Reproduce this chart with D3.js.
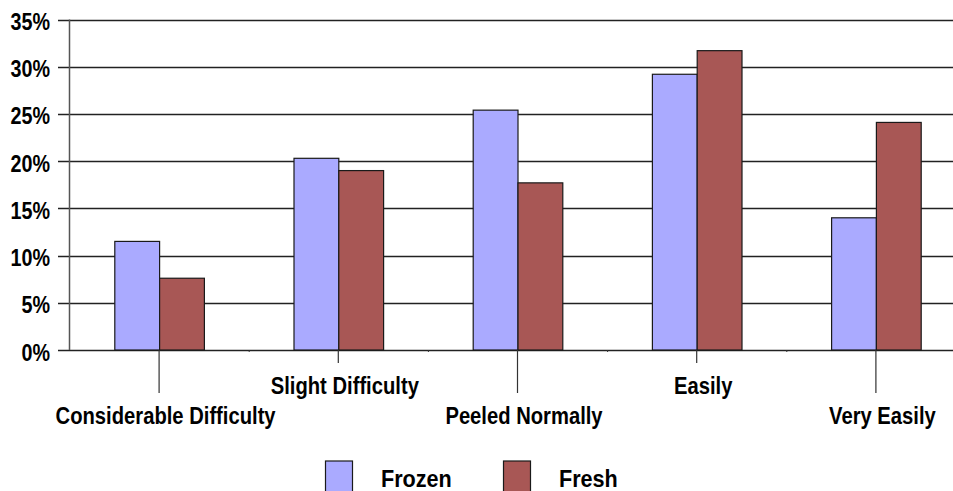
<!DOCTYPE html>
<html>
<head>
<meta charset="utf-8">
<script src="https://cdn.jsdelivr.net/npm/d3@7"></script>
<style>
  html, body { margin: 0; padding: 0; background: #fff; }
  svg { display: block; }
  text { font-family: "Liberation Sans", Arial, sans-serif; font-weight: bold; fill: #000; }
</style>
</head>
<body>
<svg id="chart" width="953" height="491"></svg>
<script>
const categories = ["Considerable Difficulty", "Slight Difficulty", "Peeled Normally", "Easily", "Very Easily"];
const seriesNames = ["Frozen", "Fresh"];
const frozenValues = [0.115, 0.203, 0.254, 0.292, 0.140];
const freshValues = [0.076, 0.190, 0.177, 0.317, 0.241];
const yTicks = [0, 0.05, 0.10, 0.15, 0.20, 0.25, 0.30, 0.35];
const colors = ["#AAAAFF", "#A85755"];

const svg = d3.select("#chart");
const W = 953, H = 491;
const plotLeft = 70, plotRight = 966, plotTop = 19.5, plotBottom = 350;

const x = d3.scaleBand().domain(categories).range([plotLeft, plotRight]).paddingInner(0.5).paddingOuter(0.25);
const xs = d3.scaleBand().domain(seriesNames).range([0, x.bandwidth()]);
const y = d3.scaleLinear().domain([0, 0.35]).range([plotBottom, plotTop]);

const data = categories.map((c, i) => ({ cat: c, vals: [frozenValues[i], freshValues[i]] }));

// gridlines
svg.append("g").selectAll("line").data(yTicks).join("line")
  .attr("x1", 58).attr("x2", W)
  .attr("y1", d => Math.round(y(d)) + 0.5).attr("y2", d => Math.round(y(d)) + 0.5)
  .attr("stroke", "#222").attr("stroke-width", 1.4);

// y axis line
svg.append("line")
  .attr("x1", plotLeft - 0.5).attr("x2", plotLeft - 0.5)
  .attr("y1", y(0.35)).attr("y2", y(0))
  .attr("stroke", "#555").attr("stroke-width", 1.5);

// y tick labels
svg.append("g").selectAll("text").data(yTicks).join("text")
  .attr("transform", d => `translate(50,${y(d) + 10.5}) scale(0.84,1)`)
  .attr("text-anchor", "end")
  .attr("font-size", 23.5)
  .text(d => d3.format(".0%")(d));

// bars
const groups = svg.append("g").selectAll("g").data(data).join("g")
  .attr("transform", d => `translate(${x(d.cat)},0)`);
groups.selectAll("rect").data(d => d.vals.map((v, j) => ({ s: seriesNames[j], v, j }))).join("rect")
  .attr("x", d => xs(d.s))
  .attr("y", d => y(d.v))
  .attr("width", xs.bandwidth())
  .attr("height", d => y(0) - y(d.v))
  .attr("fill", d => colors[d.j])
  .attr("stroke", "#1a1a1a").attr("stroke-width", 1.2);

// category boundary small ticks
const bounds = categories.slice(1).map(c => x(c) - x.step() * x.paddingInner() / 2);
svg.append("g").selectAll("line").data(bounds).join("line")
  .attr("x1", d => d).attr("x2", d => d)
  .attr("y1", plotBottom).attr("y2", plotBottom + 2)
  .attr("stroke", "#333");

// category ticks (staggered)
svg.append("g").selectAll("line").data(categories).join("line")
  .attr("x1", d => x(d) + x.bandwidth() / 2 - 0.5).attr("x2", d => x(d) + x.bandwidth() / 2 - 0.5)
  .attr("y1", plotBottom).attr("y2", (d, i) => i % 2 === 0 ? 393 : 363)
  .attr("stroke", "#333").attr("stroke-width", 1.2);

// category labels
svg.append("g").selectAll("text").data(categories).join("text")
  .attr("transform", (d, i) => `translate(${x(d) + x.bandwidth() / 2 + 6},${i % 2 === 0 ? 423.5 : 393.5}) scale(0.86,1)`)
  .attr("text-anchor", "middle")
  .attr("font-size", 23.5)
  .text(d => d);

// legend
const legendX = [325.5, 503.5];
const leg = svg.append("g").selectAll("g").data(seriesNames).join("g")
  .attr("transform", (d, i) => `translate(${legendX[i]},461)`);
leg.append("rect").attr("width", 27).attr("height", 34)
  .attr("fill", (d, i) => colors[i]).attr("stroke", "#1a1a1a").attr("stroke-width", 1.2);
leg.append("text")
  .attr("transform", "translate(55.5,25.5) scale(0.9,1)")
  .attr("font-size", 24)
  .text(d => d);
</script>
</body>
</html>
